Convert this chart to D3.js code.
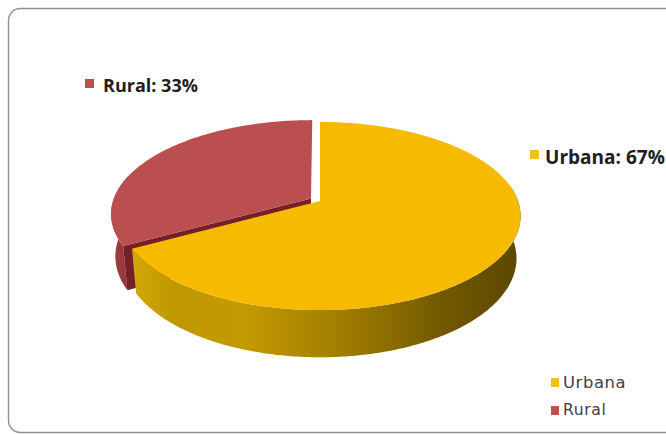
<!DOCTYPE html>
<html>
<head>
<meta charset="utf-8">
<script src="https://cdn.jsdelivr.net/npm/d3@7"></script>
<style>
  html, body { margin: 0; padding: 0; background: #ffffff; }
  svg { display: block; }
</style>
</head>
<body>
<svg id="chart" width="666" height="434"></svg>
<script>
// Population share by area
const categories = ["Urbana", "Rural"];
const values = [67, 33];
const labelTexts = ["Urbana: 67%", "Rural: 33%"];

const topColor = d3.scaleOrdinal(categories, ["#F6BB00", "#BB4E4F"]);
const keyColor = d3.scaleOrdinal(categories, ["#F2BF12", "#C0504D"]);

const svg = d3.select("#chart");
const W = 666, H = 434;

// frame
svg.append("rect")
  .attr("x", 8.5).attr("y", 8.5)
  .attr("width", 680).attr("height", 424)
  .attr("rx", 12).attr("ry", 12)
  .attr("fill", "#ffffff")
  .attr("stroke", "#8f8f8f")
  .attr("stroke-width", 1.4);

// 3D perspective projection of the pie disc (unit radius)
const cx = 320, cy = 201, k = 198;
const alpha = Math.asin(0.463);
const sinA = Math.sin(alpha), cosA = Math.cos(alpha);
const D = 5.55;      // viewer distance
const depth = 0.244; // disc thickness

function proj(u, v, y) {
  const d = v * cosA + y * sinA;
  const s = D / (D + d);
  return [cx + k * u * s, cy - k * (v * sinA - y * cosA) * s];
}

const pie = d3.pie().sort(null).value(d => d.value);
const arcs = pie(categories.map((c, i) => ({ name: c, value: values[i] })));

const explode = { Urbana: 0, Rural: 0.053 };
const line = d3.line();

function rimPoints(a0, a1, ox, ov, y) {
  const n = Math.max(8, Math.ceil(Math.abs(a1 - a0) / 0.01));
  return d3.range(n + 1).map(i => {
    const t = a0 + (a1 - a0) * i / n;
    return proj(ox + Math.sin(t), ov + Math.cos(t), y);
  });
}

const defs = svg.append("defs");
const gY = defs.append("linearGradient")
  .attr("id", "wallUrbana").attr("gradientUnits", "userSpaceOnUse")
  .attr("x1", 125).attr("y1", 0).attr("x2", 522).attr("y2", 0);
[[0, "#D6AA08"], [0.12, "#C09800"], [0.3, "#C49A00"], [0.55, "#A07D00"], [0.8, "#725900"], [1, "#5A4600"]]
  .forEach(([o, c]) => gY.append("stop").attr("offset", o).attr("stop-color", c));

const gR = defs.append("linearGradient")
  .attr("id", "wallRural").attr("gradientUnits", "userSpaceOnUse")
  .attr("x1", 110).attr("y1", 0).attr("x2", 140).attr("y2", 0);
[[0, "#A03F44"], [1, "#8A3036"]]
  .forEach(([o, c]) => gR.append("stop").attr("offset", o).attr("stop-color", c));

const pieG = svg.append("g");

// draw back slice (Rural) first, then the front slice (Urbana)
const order = ["Rural", "Urbana"];
order.forEach(name => {
  const a = arcs.find(d => d.data.name === name);
  const mid = (a.startAngle + a.endAngle) / 2;
  const e = explode[name];
  const ox = e * Math.sin(mid), ov = e * Math.cos(mid);

  // outer wall (front-facing part; back part is hidden under the top)
  const w0 = name === "Urbana" ? Math.max(a.startAngle, 1.4) : a.startAngle;
  const w1 = name === "Urbana" ? a.endAngle : Math.min(a.endAngle, 5.0);
  const topRim = rimPoints(w0, w1, ox, ov, 0);
  const botRim = rimPoints(w1, w0, ox, ov, depth);
  pieG.append("path")
    .attr("d", line(topRim.concat(botRim)) + "Z")
    .attr("fill", name === "Urbana" ? "url(#wallUrbana)" : "url(#wallRural)");

  // radial cut face at the start angle of the Rural slice
  if (name === "Rural") {
    const t = a.startAngle;
    const face = [
      proj(ox, ov, 0),
      proj(ox + Math.sin(t), ov + Math.cos(t), 0),
      proj(ox + Math.sin(t), ov + Math.cos(t), depth),
      proj(ox, ov, depth)
    ];
    pieG.append("path")
      .attr("d", line(face) + "Z")
      .attr("fill", "#761F27");
  }

  // top surface
  const top = [proj(ox, ov, 0)].concat(rimPoints(a.startAngle, a.endAngle, ox, ov, 0));
  pieG.append("path")
    .attr("d", line(top) + "Z")
    .attr("fill", topColor(name));
});

// fit a text element to a target width by adjusting its font size
function fitText(sel, width) {
  const node = sel.node();
  const size = parseFloat(sel.attr("font-size"));
  const w = node.getComputedTextLength();
  sel.attr("font-size", (size * width / w).toFixed(2));
}

// data labels
const labelFont = "'Open Sans', 'DejaVu Sans', sans-serif";
const labelSpec = {
  Rural:  { sx: 85, sy: 79, tx: 103, ty: 92, w: 95 },
  Urbana: { sx: 530, sy: 150, tx: 545, ty: 163.5, w: 120 }
};
categories.forEach((c, i) => {
  const p = labelSpec[c];
  svg.append("rect")
    .attr("x", p.sx).attr("y", p.sy)
    .attr("width", 9).attr("height", 9)
    .attr("fill", keyColor(c));
  const t = svg.append("text")
    .attr("x", p.tx).attr("y", p.ty)
    .attr("font-family", labelFont)
    .attr("font-weight", 700)
    .attr("font-size", 16)
    .attr("fill", "#1e1e1e")
    .text(labelTexts[i]);
  fitText(t, p.w);
});

// legend
const legendRows = { Urbana: { y: 378, ty: 387.5, w: 64 }, Rural: { y: 406, ty: 414.5, w: 44 } };
categories.forEach(c => {
  const r = legendRows[c];
  svg.append("rect")
    .attr("x", 551).attr("y", r.y)
    .attr("width", 8).attr("height", 9)
    .attr("fill", keyColor(c));
  const t = svg.append("text")
    .attr("x", 563).attr("y", r.ty)
    .attr("font-family", "'DejaVu Sans', sans-serif")
    .attr("font-size", 13.5)
    .attr("letter-spacing", 0.6)
    .attr("fill", "#404040")
    .text(c);
  fitText(t, r.w);
});
</script>
</body>
</html>
